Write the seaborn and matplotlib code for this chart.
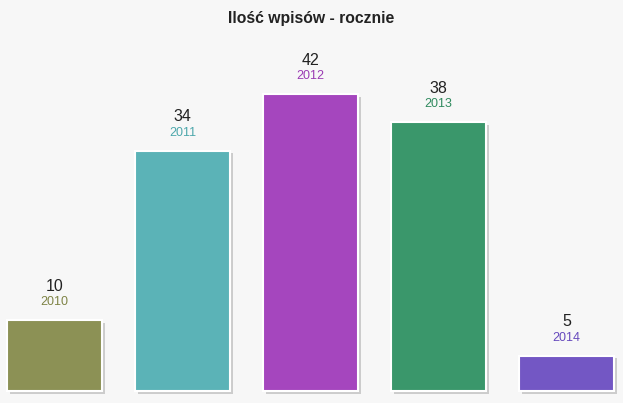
import matplotlib
matplotlib.use("Agg")
import matplotlib.pyplot as plt
import matplotlib.patheffects as pe
import seaborn as sns
import pandas as pd

# dane
years = ["2010", "2011", "2012", "2013", "2014"]
counts = [10, 34, 42, 38, 5]
bar_colors = ["#8C9155", "#5BB3B7", "#A546BE", "#3A976B", "#7357C4"]
label_colors = ["#7E8345", "#4CA7AB", "#9A3BB3", "#2F8A5E", "#6649BD"]
title = "Ilość wpisów - rocznie"

sns.set_theme(style="white")
plt.rcParams["font.family"] = ["Liberation Sans", "DejaVu Sans"]

df = pd.DataFrame({"rok": years, "wpisy": counts})

W, H = 623, 403
fig = plt.figure(figsize=(W / 100, H / 100), dpi=100)
fig.patch.set_facecolor("#f7f7f7")

# obszar wykresu w pikselach
left, right, bottom, top = 7, 614, 391, 35
ax = fig.add_axes([left / W, (H - bottom) / H, (right - left) / W, (bottom - top) / H])
ax.set_facecolor("#f7f7f7")

sns.barplot(data=df, x="rok", y="wpisy", hue="rok", palette=bar_colors,
            legend=False, width=0.74, saturation=1, ax=ax,
            edgecolor="white", linewidth=1.5)

# cień pod słupkami
for p in ax.patches:
    p.set_clip_on(False)
    p.set_path_effects([pe.SimplePatchShadow(offset=(2, -2), shadow_rgbFace="#999999", alpha=0.45),
                        pe.Normal()])

ax.set_xlim(-0.37, 4.37)
ax.set_ylim(0, (bottom - top) / 7.07)

for i, (y, c) in enumerate(zip(years, counts)):
    ax.annotate(str(c), (i, c), xytext=(0, 24.5), textcoords="offset points",
                ha="center", va="center", fontsize=11.5, color="#222222")
    ax.annotate(y, (i, c), xytext=(0, 13), textcoords="offset points",
                ha="center", va="center", fontsize=9, color=label_colors[i])

fig.text(311 / W, 1 - 18 / H, title, ha="center", va="center",
         fontsize=11.3, fontweight="bold", color="#222222")

ax.set_xlabel("")
ax.set_ylabel("")
ax.set_xticks([])
ax.set_yticks([])
sns.despine(ax=ax, left=True, bottom=True)

fig.savefig("out.png", dpi=100, facecolor=fig.get_facecolor())
